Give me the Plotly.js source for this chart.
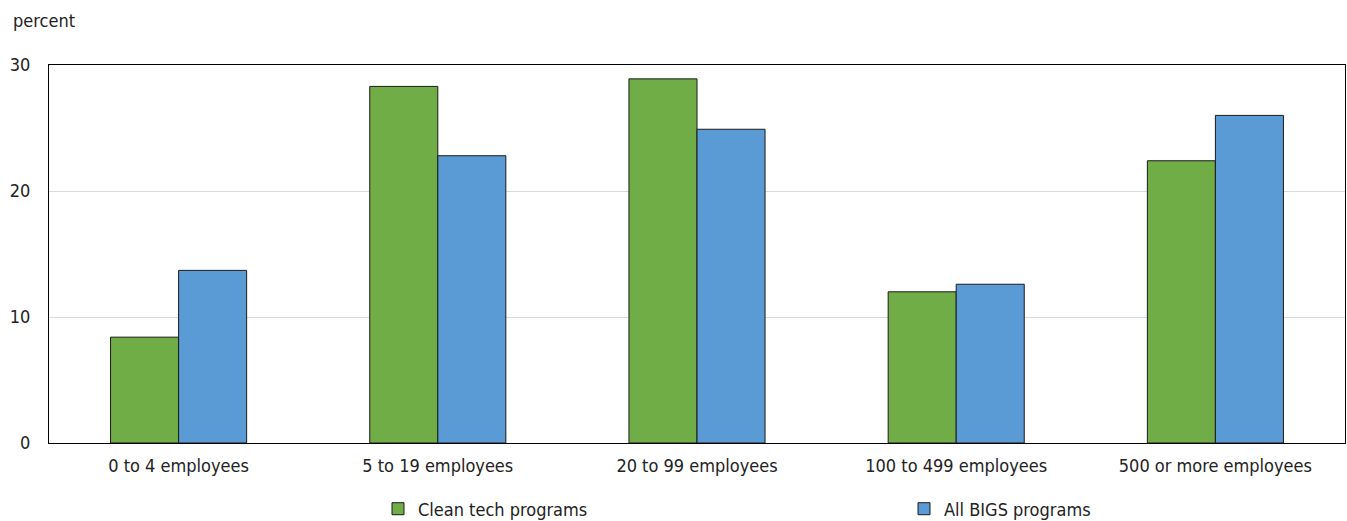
<!DOCTYPE html>
<html>
<head>
<meta charset="utf-8">
<script src="https://cdn.plot.ly/plotly-3.0.1.min.js"></script>
<style>
  html, body { margin: 0; padding: 0; background: #fff; }
  #chart { width: 1347px; height: 521px; }
</style>
</head>
<body>
<div id="chart"></div>
<script>
// Firm size categories and share of program participants (percent)
const categories = ["0 to 4 employees", "5 to 19 employees", "20 to 99 employees", "100 to 499 employees", "500 or more employees"];
const cleanTech = [8.4, 28.3, 28.9, 12.0, 22.4];
const allBigs = [13.7, 22.8, 24.9, 12.6, 26.0];
const yTicks = [0, 10, 20, 30];

const FONT = '"Liberation Sans Narrow", "DejaVu Sans Condensed", "Roboto", sans-serif';
const TEXT = '#222222';
const SIZE = 18;

const traces = [
  {
    type: 'bar', name: 'Clean tech programs', x: categories, y: cleanTech,
    marker: { color: '#70AD47', line: { color: '#1a1a1a', width: 1 } },
    legend: 'legend'
  },
  {
    type: 'bar', name: 'All BIGS programs', x: categories, y: allBigs,
    marker: { color: '#5B9BD5', line: { color: '#1a1a1a', width: 1 } },
    legend: 'legend2'
  }
];

// one legend box per series so the two entries sit far apart on one row
const legendBase = {
  orientation: 'h', xref: 'container', yref: 'container',
  y: 0.023, yanchor: 'middle', xanchor: 'left',
  itemwidth: 30, bgcolor: 'rgba(0,0,0,0)',
  font: { family: FONT, size: SIZE, color: TEXT }
};

const layout = {
  width: 1347, height: 521,
  margin: { l: 49, r: 2, t: 65, b: 78, autoexpand: false },
  paper_bgcolor: '#fff', plot_bgcolor: '#fff',
  font: { family: FONT, color: TEXT, size: SIZE },
  barmode: 'group', bargap: 0.475, bargroupgap: 0,
  showlegend: true,
  legend: Object.assign({}, legendBase, { x: 378 / 1347 }),
  legend2: Object.assign({}, legendBase, { x: 904 / 1347 }),
  xaxis: {
    type: 'category', showgrid: false, ticks: '', zeroline: false,
    showline: true, linecolor: '#000', linewidth: 1, mirror: true,
    ticklabelstandoff: 6,
    tickfont: { family: FONT, size: SIZE, color: TEXT }
  },
  yaxis: {
    range: [0, 30], tickvals: yTicks, ticktext: yTicks.map(String),
    showgrid: true, gridcolor: '#d9d9d9', gridwidth: 1,
    zeroline: false, showline: true, linecolor: '#000', linewidth: 1, mirror: true,
    ticks: '', ticklabelstandoff: 14,
    tickfont: { family: FONT, size: SIZE, color: TEXT }
  },
  annotations: [
    { text: 'percent', xref: 'paper', yref: 'paper', x: -0.029, y: 1.119, xanchor: 'left', yanchor: 'middle',
      showarrow: false, font: { family: FONT, size: SIZE, color: TEXT } }
  ]
};

Plotly.newPlot('chart', traces, layout, { displayModeBar: false, staticPlot: true });
</script>
</body>
</html>
